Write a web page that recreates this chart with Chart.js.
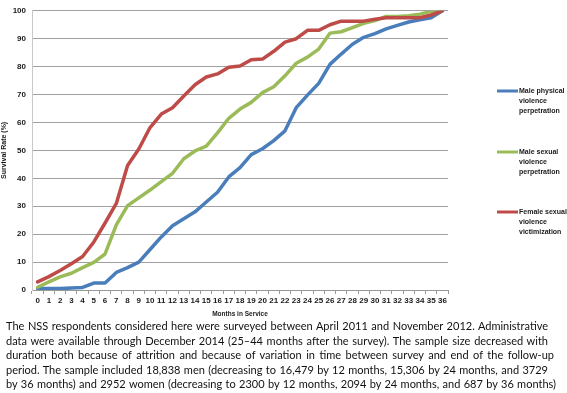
<!DOCTYPE html>
<html>
<head>
<meta charset="utf-8">
<script src="https://cdn.jsdelivr.net/npm/chart.js@4.4.1/dist/chart.umd.min.js"></script>
<style>
  html, body { margin: 0; padding: 0; background: #fff; }
  #wrap { position: relative; width: 567px; height: 393px; overflow: hidden; }
  #chartBox { position: absolute; left: 0; top: 0; width: 567px; height: 322px; }
  #note {
    position: absolute; left: 6px; top: 319px;
    font-family: "Lato", "Open Sans", sans-serif; font-size: 11px; line-height: 14.5px;
    color: #111;
  }
  #note span { display: block; white-space: nowrap; text-align: justify; text-align-last: justify; }
</style>
</head>
<body>
<div id="wrap">
  <div id="chartBox"><canvas id="myChart"></canvas></div>
  <div id="note">
    <span style="width:542px">The NSS respondents considered here were surveyed between April 2011 and November 2012. Administrative</span>
    <span style="width:542px">data were available through December 2014 (25–44 months after the survey). The sample size decreased with</span>
    <span style="width:548px">duration both because of attrition and because of variation in time between survey and end of the follow-up</span>
    <span style="width:542px">period. The sample included 18,838 men (decreasing to 16,479 by 12 months, 15,306 by 24 months, and 3729</span>
    <span style="width:550px">by 36 months) and 2952 women (decreasing to 2300 by 12 months, 2094 by 24 months, and 687 by 36 months)</span>
  </div>
</div>
<script>
// months in service 0..36
const meses = ['0','1','2','3','4','5','6','7','8','9','10','11','12','13','14','15','16','17','18',
  '19','20','21','22','23','24','25','26','27','28','29','30','31','32','33','34','35','36'];

const maleFisica = [0.5,0.5,0.5,0.7,0.9,2.5,2.5,6.3,8,10,14.5,19,23,25.5,28,31.5,35,40.5,43.8,48.5,
  50.6,53.5,57,65.3,69.8,74,80.8,84.5,88,90.5,91.8,93.5,94.8,96,96.8,97.5,100];
const maleSexual = [1,2.9,4.7,6,8,9.9,12.9,23.3,30.2,33,35.8,38.8,41.8,47,49.8,51.5,56.3,61.5,64.8,67.2,
  70.7,72.8,76.7,81.2,83.4,86.3,92,92.5,94,95.5,96.5,98,98,98.2,98.8,99.8,100];
const femaleSexual = [2.9,4.8,7,9.4,12,17.2,24,31,44.6,50.5,58.2,63,65.3,69.5,73.5,76.3,77.4,79.8,80.2,82.5,
  82.7,85.5,88.8,90,93,93,95,96.3,96.3,96.3,97,97.5,97.5,97.5,97.5,98.5,100];

const nombres = [
  ['Male physical', 'violence', 'perpetration'],
  ['Male sexual', 'violence', 'perpetration'],
  ['Female sexual', 'violence', 'victimization']
];
const colores = ['#4a7ebb', '#9bbb59', '#be4b48'];

// legend drawn by hand so the labels can wrap on three lines
const leyendaManual = {
  id: 'leyendaManual',
  afterDraw(chart) {
    const ctx = chart.ctx;
    const ys = [91, 152, 212];
    ctx.save();
    ctx.font = 'bold 7px "Liberation Sans", Arial, sans-serif';
    ctx.textBaseline = 'middle';
    chart.data.datasets.forEach((ds, i) => {
      ctx.strokeStyle = ds.borderColor;
      ctx.lineWidth = 3;
      ctx.beginPath();
      ctx.moveTo(497, ys[i]);
      ctx.lineTo(518, ys[i]);
      ctx.stroke();
      ctx.fillStyle = '#1a1a1a';
      nombres[i].forEach((t, j) => ctx.fillText(t, 519, ys[i] + j * 10));
    });
    ctx.restore();
  }
};

const lienzo = document.getElementById('myChart');
new Chart(lienzo, {
  type: 'line',
  data: {
    labels: meses,
    datasets: [
      { label: nombres[0].join(' '), data: maleFisica, borderColor: colores[0], order: 3 },
      { label: nombres[1].join(' '), data: maleSexual, borderColor: colores[1], order: 2 },
      { label: nombres[2].join(' '), data: femaleSexual, borderColor: colores[2], order: 1 }
    ]
  },
  options: {
    responsive: true,
    maintainAspectRatio: false,
    animation: false,
    devicePixelRatio: 1,
    layout: { padding: { top: 3, right: 119, left: 0, bottom: 0 } },
    elements: {
      line: { borderWidth: 3.5, tension: 0, borderCapStyle: 'round', borderJoinStyle: 'round' },
      point: { radius: 0 }
    },
    plugins: {
      legend: { display: false },
      tooltip: { enabled: false }
    },
    scales: {
      x: {
        offset: true,
        grid: { offset: true, drawOnChartArea: false, drawTicks: true, tickLength: 4, color: '#999' },
        border: { color: '#999' },
        ticks: {
          color: '#1a1a1a', padding: 2, maxRotation: 0, autoSkip: false,
          font: { family: '"Liberation Sans", Arial, sans-serif', size: 8, weight: 'bold' }
        },
        title: {
          display: true, text: 'Months in Service', color: '#1a1a1a', padding: { top: 2, bottom: 4 },
          font: { family: '"Liberation Sans", Arial, sans-serif', size: 6.5, weight: 'bold' }
        },
        afterFit: (s) => { s.height = 32; }
      },
      y: {
        min: 0, max: 100,
        grid: { color: '#a0a0a0', drawTicks: false, lineWidth: 1 },
        border: { color: '#c8c8c8' },
        ticks: {
          stepSize: 10, color: '#1a1a1a', padding: 6,
          font: { family: '"Liberation Sans", Arial, sans-serif', size: 8, weight: 'bold' }
        },
        title: {
          display: true, text: 'Survival Rate (%)', color: '#1a1a1a', padding: 0,
          font: { family: '"Liberation Sans", Arial, sans-serif', size: 7, weight: 'bold' }
        },
        afterFit: (s) => { s.width = 32; }
      }
    }
  },
  plugins: [leyendaManual]
});
</script>
</body>
</html>
